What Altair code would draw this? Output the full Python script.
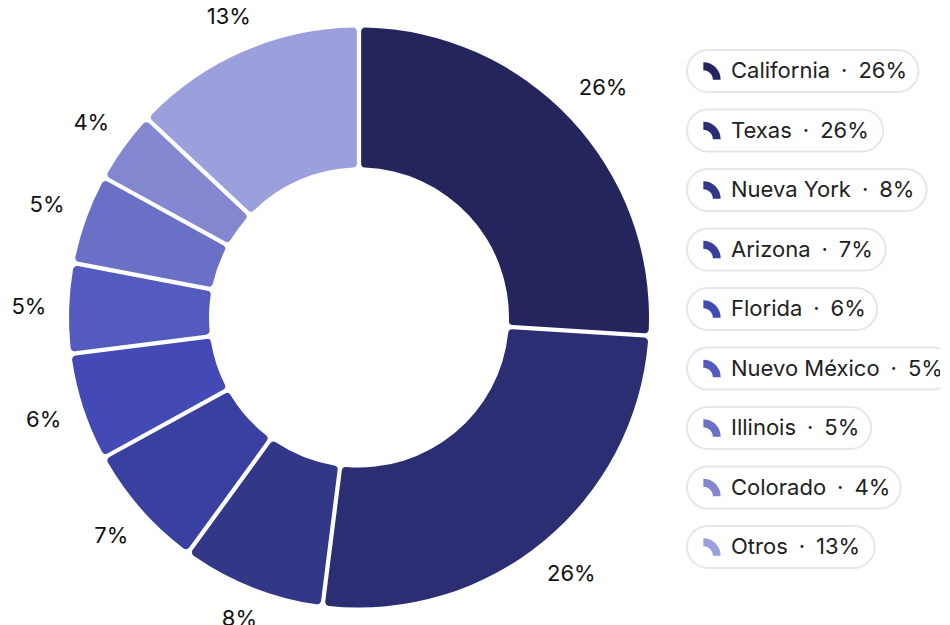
import altair as alt
import pandas as pd

states = ["California", "Texas", "Nueva York", "Arizona", "Florida",
          "Nuevo México", "Illinois", "Colorado", "Otros"]
shares = [26, 26, 8, 7, 6, 5, 5, 4, 13]
colors = ["#23255c", "#2b2e73", "#323788", "#3a409f", "#4349b5",
          "#535bbf", "#6b70c7", "#8487d0", "#9b9fdc"]

FONT = "Inter"
LEG_FS = 22
SEP = "\u2002·\u2002"

# approximate Inter advance widths (em) to size the legend pills
_W = {'C': 0.71, 'a': 0.55, 'l': 0.23, 'i': 0.23, 'f': 0.35, 'o': 0.58, 'r': 0.37,
      'n': 0.59, 'T': 0.64, 'e': 0.56, 'x': 0.52, 's': 0.51, 'N': 0.75, 'u': 0.59,
      'v': 0.53, 'Y': 0.65, 'k': 0.53, 'A': 0.69, 'z': 0.51, 'F': 0.57, 'd': 0.60,
      'M': 0.87, 'é': 0.56, 'c': 0.54, 'I': 0.26, 'O': 0.76, 't': 0.35, ' ': 0.27,
      '\u2002': 0.5, '·': 0.28, '%': 0.84, '1': 0.45}


def text_w(s, fs):
    return sum(_W.get(ch, 0.62) for ch in s) * fs


# page layout: origin at x=8 (no padding); donut centre at page (359, 317.5)
DW, LW, VH = 655, 277, 617
CX, CY = 351, 309.5
LX = 687 - (8 + DW)          # pill left inside legend view

df = pd.DataFrame({"state": states, "share": shares, "order": list(range(len(states)))})
df["pct"] = df["share"].astype(str) + "%"
df["legend"] = df["state"] + SEP + df["pct"]
df["x0"] = LX
df["x1"] = [LX + 44 + text_w(t, LEG_FS) + 17 for t in df["legend"]]

color = alt.Color("state:N", scale=alt.Scale(domain=states, range=colors), legend=None)

base = alt.Chart(df).encode(
    theta=alt.Theta("share:Q", stack=True),
    order=alt.Order("order:Q"),
)
arcs = base.mark_arc(innerRadius=150, outerRadius=290, cornerRadius=4,
                     padAngle=0.013).encode(color=color,
                                            x=alt.value(CX), y=alt.value(CY))
# label distance grows with the label's half-width / half-height in its direction
label_r = alt.ExprRef(expr=(
    "310 + (6.5*length(datum.pct)+7)*abs(sin(datum.ang)) + 8*abs(cos(datum.ang))"))
labels = base.transform_window(
    cum="sum(share)", sort=[alt.SortField("order", order="ascending")],
    frame=[None, 0]
).transform_joinaggregate(total="sum(share)").transform_calculate(
    ang="2*PI*(datum.cum - datum.share/2)/datum.total"
).mark_text(font=FONT, fontSize=22, color="#111111", clip=True,
            radius=label_r).encode(
    text="pct:N", x=alt.value(CX), y=alt.value(CY))
donut = alt.layer(arcs, labels).properties(width=DW, height=VH)

ypos = alt.Y("state:N", sort=states, axis=None,
             scale=alt.Scale(type="point", range=[63, 539], padding=0))
lbase = alt.Chart(df).encode(y=ypos)
pills = lbase.mark_rect(height=42, cornerRadius=21, fill="white", clip=True,
                        stroke="#e6e6e6", strokeWidth=2).encode(
    x=alt.X("x0:Q", scale=None), x2="x1:Q")
icon_path = "M -1,-1 A 2,2 0 0 1 1,1 L 0.1,1 A 1.1,1.1 0 0 0 -1,-0.1 Z"
icons = lbase.mark_point(shape=icon_path, filled=True, size=300, opacity=1).encode(
    x=alt.value(LX + 25), color=color)
texts = lbase.mark_text(align="left", baseline="middle", font=FONT, fontSize=LEG_FS,
                        color="#222222", clip=True).encode(
    x=alt.value(LX + 44), text="legend:N")
legend = alt.layer(pills, icons, texts).properties(width=LW, height=VH)

chart = alt.hconcat(donut, legend, spacing=0).configure_view(stroke=None).properties(
    padding=0)

chart.save("out.html", embed_options={"renderer": "svg", "actions": False})
